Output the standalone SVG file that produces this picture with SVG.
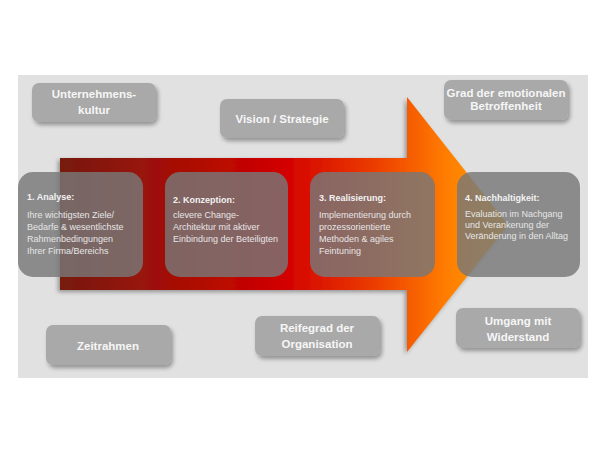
<svg xmlns="http://www.w3.org/2000/svg" width="600" height="450" viewBox="0 0 600 450">
<defs>
<linearGradient id="arrowGrad" x1="60" y1="0" x2="508" y2="0" gradientUnits="userSpaceOnUse">
<stop offset="0" stop-color="#761b0e"/>
<stop offset="0.25" stop-color="#a40f06"/>
<stop offset="0.5" stop-color="#d20000"/>
<stop offset="0.7" stop-color="#ec3c00"/>
<stop offset="0.86" stop-color="#ff7c00"/>
<stop offset="1" stop-color="#ffa600"/>
</linearGradient>
<filter id="shadow" x="-10%" y="-10%" width="125%" height="130%">
<feDropShadow dx="2" dy="3" stdDeviation="2" flood-color="#000" flood-opacity="0.35"/>
</filter>
<filter id="arrowShadow" x="-5%" y="-5%" width="110%" height="115%">
<feDropShadow dx="-2" dy="2" stdDeviation="2" flood-color="#000" flood-opacity="0.35"/>
</filter>
</defs>
<style>
.label{fill:#a9a9a9}
.ltxt{font-family:"Liberation Sans",Arial,sans-serif;font-weight:bold;font-size:11.5px;fill:#f6f6f6;text-anchor:middle}
.step{fill:#777777;fill-opacity:0.82}
.head{font-family:"Liberation Sans",Arial,sans-serif;font-weight:bold;font-size:9px;fill:#f2f2f2}
.body{font-family:"Liberation Sans",Arial,sans-serif;font-size:9px;fill:#e6e6e6}
</style>
<rect x="0" y="0" width="600" height="450" fill="#ffffff"/>
<rect x="18" y="75" width="570" height="303" fill="#e1e1e1"/>

<g id="connectors">
<path d="M60 158 L407 158 L407 97 L508 225 L407 352 L407 290 L60 290 Z" fill="url(#arrowGrad)" filter="url(#arrowShadow)"/>
</g>

<g id="unternehmenskultur">
<rect class="label" x="32" y="83" width="124" height="39" rx="7" filter="url(#shadow)"/>
<text class="ltxt" x="94" y="98" font-size="12">Unternehmens-</text>
<text class="ltxt" x="94" y="114" font-size="12">kultur</text>
</g>
<g id="vision">
<rect class="label" x="220" y="99" width="124" height="39" rx="7" filter="url(#shadow)"/>
<text class="ltxt" x="282" y="123" font-size="12">Vision / Strategie</text>
</g>
<g id="betroffenheit">
<rect class="label" x="444" y="80" width="124" height="40" rx="7" filter="url(#shadow)"/>
<text class="ltxt" x="506" y="97" font-size="10.5">Grad der emotionalen</text>
<text class="ltxt" x="506" y="110" font-size="10.5">Betroffenheit</text>
</g>
<g id="zeitrahmen">
<rect class="label" x="46" y="325" width="125" height="40" rx="7" filter="url(#shadow)"/>
<text class="ltxt" x="108" y="350">Zeitrahmen</text>
</g>
<g id="reifegrad">
<rect class="label" x="255" y="316" width="125" height="40" rx="7" filter="url(#shadow)"/>
<text class="ltxt" x="317" y="332">Reifegrad der</text>
<text class="ltxt" x="317" y="348">Organisation</text>
</g>
<g id="widerstand">
<rect class="label" x="456" y="308" width="124" height="40" rx="7" filter="url(#shadow)"/>
<text class="ltxt" x="518" y="325">Umgang mit</text>
<text class="ltxt" x="518" y="341">Widerstand</text>
</g>

<g id="analyse">
<rect class="step" x="18" y="172" width="125" height="105" rx="15"/>
<text class="head" x="27" y="200">1. Analyse:</text>
<text class="body" x="27" y="218">Ihre wichtigsten Ziele/</text>
<text class="body" x="27" y="230">Bedarfe &amp; wesentlichste</text>
<text class="body" x="27" y="242">Rahmenbedingungen</text>
<text class="body" x="27" y="254">Ihrer Firma/Bereichs</text>
</g>
<g id="konzeption">
<rect class="step" x="165" y="172" width="123" height="105" rx="15"/>
<text class="head" x="173" y="203">2. Konzeption:</text>
<text class="body" x="173" y="218">clevere Change-</text>
<text class="body" x="173" y="230">Architektur mit aktiver</text>
<text class="body" x="173" y="242">Einbindung der Beteiligten</text>
</g>
<g id="realisierung">
<rect class="step" x="310" y="172" width="125" height="105" rx="15"/>
<text class="head" x="319" y="201">3. Realisierung:</text>
<text class="body" x="319" y="218">Implementierung durch</text>
<text class="body" x="319" y="230">prozessorientierte</text>
<text class="body" x="319" y="242">Methoden &amp; agiles</text>
<text class="body" x="319" y="254">Feintuning</text>
</g>
<g id="nachhaltigkeit">
<rect class="step" x="457" y="172" width="123" height="105" rx="15"/>
<text class="head" x="465" y="201">4. Nachhaltigkeit:</text>
<text class="body" x="465" y="217">Evaluation im Nachgang</text>
<text class="body" x="465" y="228">und Verankerung der</text>
<text class="body" x="465" y="239">Veränderung in den Alltag</text>
</g>
</svg>
